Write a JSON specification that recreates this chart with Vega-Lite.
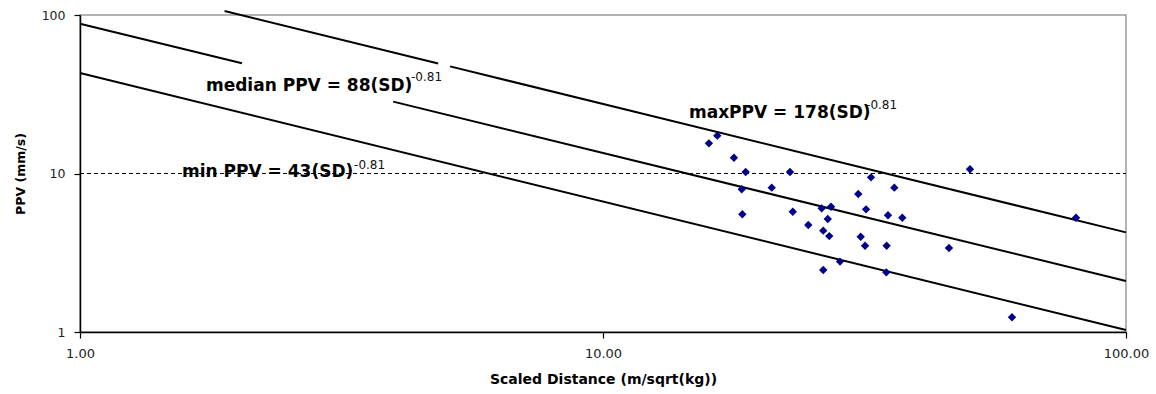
{
  "$schema": "https://vega.github.io/schema/vega-lite/v6.json",
  "width": 1046,
  "height": 317,
  "autosize": {"type": "none"},
  "padding": {"left": 80, "top": 15, "right": 30, "bottom": 62},
  "background": "white",
  "config": {
    "view": {"stroke": "#9a9a9a", "strokeWidth": 1.5},
    "axis": {
      "grid": false,
      "domainColor": "#000000",
      "domainWidth": 1.5,
      "tickColor": "#000000",
      "tickWidth": 1.2,
      "tickSize": 6,
      "labelFont": "DejaVu Sans",
      "labelColor": "#222222",
      "titleFont": "DejaVu Sans",
      "titleFontWeight": "bold",
      "titleColor": "#000000",
      "labelFlush": false
    }
  },
  "datasets": {
    "points": [
      {"x": 15.94, "y": 15.50}, {"x": 16.54, "y": 17.32}, {"x": 17.80, "y": 12.58},
      {"x": 18.74, "y": 10.22}, {"x": 18.42, "y": 7.95}, {"x": 18.47, "y": 5.53},
      {"x": 22.78, "y": 10.22}, {"x": 21.02, "y": 8.14}, {"x": 23.06, "y": 5.74},
      {"x": 24.69, "y": 4.73}, {"x": 26.19, "y": 6.03}, {"x": 27.29, "y": 6.17},
      {"x": 26.90, "y": 5.16}, {"x": 26.37, "y": 4.36}, {"x": 27.08, "y": 4.03},
      {"x": 26.37, "y": 2.46}, {"x": 28.39, "y": 2.78}, {"x": 30.77, "y": 7.42},
      {"x": 32.54, "y": 9.46}, {"x": 31.84, "y": 5.94}, {"x": 31.10, "y": 3.99},
      {"x": 31.70, "y": 3.50}, {"x": 36.06, "y": 8.14}, {"x": 35.07, "y": 5.45},
      {"x": 37.35, "y": 5.26}, {"x": 34.86, "y": 3.50}, {"x": 34.81, "y": 2.38},
      {"x": 45.87, "y": 3.39}, {"x": 50.31, "y": 10.63}, {"x": 80.25, "y": 5.26},
      {"x": 60.54, "y": 1.24}
    ],
    "lines": [
      {"seg": "max-a", "x": 1.89, "y": 106}, {"seg": "max-a", "x": 4.84, "y": 49.5},
      {"seg": "max-b", "x": 5.10, "y": 47.4}, {"seg": "max-b", "x": 100, "y": 4.25},
      {"seg": "median-a", "x": 1, "y": 88}, {"seg": "median-a", "x": 2.04, "y": 49.6},
      {"seg": "median-b", "x": 3.97, "y": 28.4}, {"seg": "median-b", "x": 100, "y": 2.1},
      {"seg": "min", "x": 1, "y": 43}, {"seg": "min", "x": 100, "y": 1.03}
    ],
    "ref": [{"x": 1, "y": 10}, {"x": 100, "y": 10}],
    "labels": [
      {"x": 1.741, "y": 33.3, "text": "median PPV = 88(SD)"},
      {"x": 1.567, "y": 9.546, "text": "min PPV = 43(SD)"},
      {"x": 14.60, "y": 22.4, "text": "maxPPV = 178(SD)"}
    ],
    "sups": [
      {"x": 4.295, "y": 38.5, "text": "-0.81"},
      {"x": 3.342, "y": 10.63, "text": "-0.81"},
      {"x": 31.84, "y": 25.7, "text": "-0.81"}
    ]
  },
  "encoding": {
    "x": {
      "field": "x", "type": "quantitative",
      "scale": {"type": "log", "domain": [1, 100], "nice": false},
      "axis": {
        "values": [1, 10, 100], "format": ".2f",
        "title": "Scaled Distance (m/sqrt(kg))",
        "labelFontSize": 13, "labelPadding": 9,
        "titleFontSize": 14, "titlePadding": 12
      }
    },
    "y": {
      "field": "y", "type": "quantitative",
      "scale": {"type": "log", "domain": [1, 100], "nice": false},
      "axis": {
        "values": [1, 10, 100], "format": "d",
        "title": "PPV (mm/s)",
        "labelFontSize": 12.5, "labelPadding": 9,
        "titleFontSize": 12.5, "titlePadding": 14
      }
    }
  },
  "layer": [
    {
      "data": {"name": "ref"},
      "mark": {"type": "line", "color": "#000000", "strokeWidth": 1, "strokeDash": [4, 3]}
    },
    {
      "data": {"name": "lines"},
      "mark": {"type": "line", "color": "#000000", "strokeWidth": 2},
      "encoding": {"detail": {"field": "seg"}}
    },
    {
      "data": {"name": "points"},
      "mark": {"type": "point", "shape": "diamond", "filled": true, "color": "#00008b", "opacity": 1, "size": 70}
    },
    {
      "data": {"name": "labels"},
      "mark": {"type": "text", "align": "left", "baseline": "alphabetic", "font": "DejaVu Sans", "fontWeight": "bold", "fontSize": 17, "color": "#000000"},
      "encoding": {"text": {"field": "text"}}
    },
    {
      "data": {"name": "sups"},
      "mark": {"type": "text", "align": "left", "baseline": "alphabetic", "font": "DejaVu Sans", "fontSize": 12, "color": "#111111"},
      "encoding": {"text": {"field": "text"}}
    }
  ]
}
